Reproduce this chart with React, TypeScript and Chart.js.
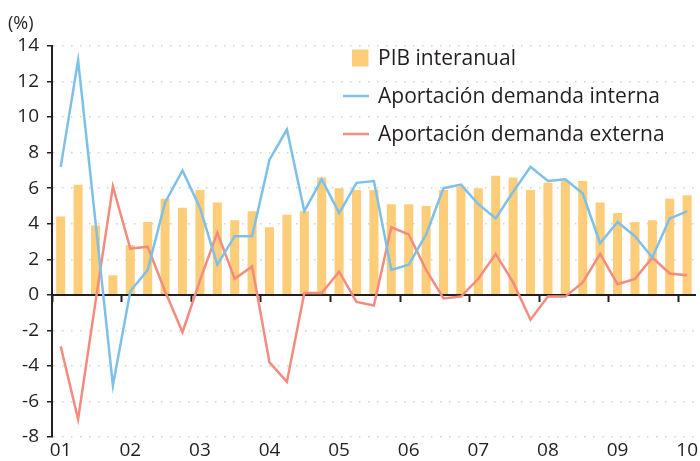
import React, { useEffect, useRef } from 'react';
import { Chart, registerables } from 'chart.js';

Chart.register(...registerables);

// Quarterly categories, 2001 Q1 to 2010 Q1
const quarters = [
  '2001 T1', '2001 T2', '2001 T3', '2001 T4',
  '2002 T1', '2002 T2', '2002 T3', '2002 T4',
  '2003 T1', '2003 T2', '2003 T3', '2003 T4',
  '2004 T1', '2004 T2', '2004 T3', '2004 T4',
  '2005 T1', '2005 T2', '2005 T3', '2005 T4',
  '2006 T1', '2006 T2', '2006 T3', '2006 T4',
  '2007 T1', '2007 T2', '2007 T3', '2007 T4',
  '2008 T1', '2008 T2', '2008 T3', '2008 T4',
  '2009 T1', '2009 T2', '2009 T3', '2009 T4',
  '2010 T1',
];

const yearTicks = ['01', '02', '03', '04', '05', '06', '07', '08', '09', '10'];

const pibInteranual = [
  4.4, 6.2, 3.9, 1.1, 2.8, 4.1, 5.4, 4.9, 5.9, 5.2, 4.2, 4.7, 3.8, 4.5, 4.7, 6.6,
  6.0, 5.9, 5.9, 5.1, 5.1, 5.0, 5.9, 6.1, 6.0, 6.7, 6.6, 5.9, 6.3, 6.4, 6.4, 5.2,
  4.6, 4.1, 4.2, 5.4, 5.6,
];

const demandaInterna = [
  7.2, 13.2, 4.1, -5.1, 0.2, 1.4, 5.2, 7.0, 4.9, 1.7, 3.3, 3.3, 7.6, 9.3, 4.7, 6.5,
  4.6, 6.3, 6.4, 1.4, 1.7, 3.4, 6.0, 6.2, 5.1, 4.3, 5.8, 7.2, 6.4, 6.5, 5.7, 2.9,
  4.1, 3.3, 2.1, 4.3, 4.7,
];

const demandaExterna = [
  -2.9, -7.0, -0.4, 6.1, 2.6, 2.7, 0.2, -2.1, 0.8, 3.5, 0.9, 1.6, -3.8, -4.9, 0.1, 0.1,
  1.3, -0.4, -0.6, 3.8, 3.4, 1.4, -0.2, -0.1, 0.9, 2.3, 0.7, -1.4, -0.1, -0.1, 0.7, 2.3,
  0.6, 0.9, 2.1, 1.2, 1.1,
];

const seriesNames = ['PIB interanual', 'Aportación demanda interna', 'Aportación demanda externa'];
const unitLabel = '(%)';

const FONT = "'Open Sans', sans-serif";
const INK = '#231f20';
const BAR = '#fecd7a';
const BLUE = '#7dc1e8';
const RED = '#f48b7f';

const overlayPlugin = {
  id: 'overlay',
  afterDraw(chart: any) {
    const { ctx } = chart;
    ctx.save();
    ctx.fillStyle = INK;
    ctx.textBaseline = 'middle';
    ctx.textAlign = 'left';
    ctx.font = `18px ${FONT}`;
    ctx.fillText(unitLabel, 8, 24);

    const rows = [58, 96, 134];
    ctx.font = `21px ${FONT}`;
    chart.data.datasets.forEach((ds: any, i: number) => {
      const y = rows[i];
      if (ds.type === 'bar') {
        ctx.fillStyle = ds.backgroundColor;
        ctx.fillRect(352, y - 8.5, 16.5, 17);
      } else {
        ctx.strokeStyle = ds.borderColor;
        ctx.lineWidth = 2.5;
        ctx.beginPath();
        ctx.moveTo(343, y);
        ctx.lineTo(369, y);
        ctx.stroke();
      }
      ctx.fillStyle = INK;
      ctx.fillText(ds.label, 378, y + 1);
    });
    ctx.restore();
  },
};

export default function App() {
  const canvasRef = useRef<HTMLCanvasElement | null>(null);

  useEffect(() => {
    if (!canvasRef.current) return;
    Chart.defaults.font.family = FONT;
    const chart = new Chart(canvasRef.current, {
      type: 'bar',
      data: {
        labels: quarters,
        datasets: [
          {
            type: 'bar',
            label: seriesNames[0],
            data: pibInteranual,
            backgroundColor: BAR,
            borderWidth: 0,
            barPercentage: 0.52,
            categoryPercentage: 1,
            order: 3,
          } as any,
          {
            type: 'line',
            label: seriesNames[1],
            data: demandaInterna,
            borderColor: BLUE,
            backgroundColor: BLUE,
            borderWidth: 2.5,
            pointRadius: 0,
            tension: 0,
            order: 1,
          } as any,
          {
            type: 'line',
            label: seriesNames[2],
            data: demandaExterna,
            borderColor: RED,
            backgroundColor: RED,
            borderWidth: 2.5,
            pointRadius: 0,
            tension: 0,
            order: 2,
          } as any,
        ],
      },
      options: {
        animation: false,
        responsive: true,
        maintainAspectRatio: false,
        layout: { padding: { top: 46, left: 8, right: 0, bottom: 0 } },
        plugins: {
          legend: { display: false },
          tooltip: { enabled: false },
          title: { display: false },
        },
        scales: {
          x: {
            type: 'category',
            position: 'bottom',
            offset: true,
            grid: { display: false, drawTicks: false },
            border: { display: false },
            ticks: {
              autoSkip: false,
              maxRotation: 0,
              minRotation: 0,
              color: INK,
              font: { size: 19 },
              padding: 2,
              callback: (_v: any, i: number) => (i % 4 === 0 ? yearTicks[i / 4] : ''),
            },
            afterFit: (s: any) => {
              s.height = 24;
            },
          },
          xt: {
            type: 'category',
            labels: quarters,
            position: { y: 0 },
            offset: true,
            grid: {
              offset: true,
              drawOnChartArea: false,
              drawTicks: true,
              tickLength: 6,
              tickWidth: 2,
              color: (c: any) => (c.index % 4 === 0 ? INK : 'rgba(0,0,0,0)'),
              tickColor: (c: any) => (c.index % 4 === 0 ? INK : 'rgba(0,0,0,0)'),
            },
            ticks: { display: false, autoSkip: false },
            border: { display: true, color: INK, width: 2 },
          },
          y: {
            min: -8,
            max: 14,
            ticks: { stepSize: 2, color: INK, font: { size: 19 }, padding: 8 },
            grid: {
              color: (c: any) => (c.tick && c.tick.value === 0 ? 'rgba(0,0,0,0)' : '#d2d2d2'),
              lineWidth: 1.5,
              drawTicks: true,
              tickLength: 5,
              tickWidth: 1.5,
              tickColor: INK,
              tickBorderDash: [],
            },
            border: { display: true, color: INK, width: 2, dash: [1.5, 7.5] },
            afterFit: (s: any) => {
              s.width = 44;
            },
          },
        },
      } as any,
      plugins: [overlayPlugin],
    });
    return () => chart.destroy();
  }, []);

  return (
    <div style={{ position: 'fixed', left: 0, top: 0, width: 700, height: 461, background: '#fff' }}>
      <canvas ref={canvasRef} />
    </div>
  );
}
